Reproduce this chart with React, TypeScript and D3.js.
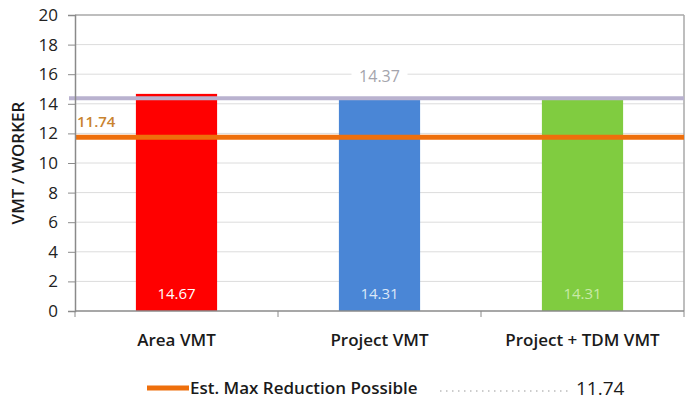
import { useEffect, useRef } from 'react'
import * as d3 from 'd3'

// values
const categories = ['Area VMT', 'Project VMT', 'Project + TDM VMT']
const vmtValues = [14.67, 14.31, 14.31]
const barColors = ['#ff0000', '#4a86d6', '#80cc40']
const labelColors = ['#ffffff', '#dbe8f8', '#c9eaa8']
const thresholdValue = 14.37
const maxReduction = 11.74
const yTicks = [0, 2, 4, 6, 8, 10, 12, 14, 16, 18, 20]

const W = 696
const H = 403
const FONT = '"Open Sans", "Noto Sans", sans-serif'

export default function App() {
  const ref = useRef<SVGSVGElement | null>(null)

  useEffect(() => {
    const svg = d3.select(ref.current)
    svg.selectAll('*').remove()

    const margin = { top: 15, right: 12, bottom: 92, left: 75 }
    const width = W - margin.left - margin.right
    const height = H - margin.top - margin.bottom

    const chart = svg.append('g').attr('transform', `translate(${margin.left},${margin.top})`)

    const x = d3.scaleBand().domain(categories).range([0, width]).paddingInner(0.6).paddingOuter(0.3)
    const xb = d3.scaleBand().domain(categories).range([0, width])
    const y = d3.scaleLinear().domain([0, 20]).range([height, 0])

    // * gridlines
    chart.selectAll('.grid')
      .data(yTicks.filter((t) => t > 0))
      .enter()
      .append('line')
      .attr('x1', 0)
      .attr('x2', width)
      .attr('y1', (d) => y(d))
      .attr('y2', (d) => y(d))
      .attr('stroke', (d) => (d === 20 ? '#a8a8a8' : '#dcdcdc'))
      .attr('stroke-width', (d) => (d === 20 ? 1.5 : 1))

    // right border
    chart.append('line')
      .attr('x1', width).attr('x2', width)
      .attr('y1', 0).attr('y2', height)
      .attr('stroke', '#a8a8a8').attr('stroke-width', 1.5)

    // * bars
    chart.selectAll('.bar')
      .data(categories)
      .enter()
      .append('rect')
      .attr('x', (d) => x(d)!)
      .attr('y', (d, i) => y(vmtValues[i]))
      .attr('width', x.bandwidth())
      .attr('height', (d, i) => height - y(vmtValues[i]))
      .attr('fill', (d, i) => barColors[i])

    chart.selectAll('.barlabel')
      .data(categories)
      .enter()
      .append('text')
      .attr('x', (d) => x(d)! + x.bandwidth() / 2)
      .attr('y', height - 12)
      .attr('text-anchor', 'middle')
      .attr('font-family', FONT)
      .attr('font-size', 15)
      .attr('fill', (d, i) => labelColors[i])
      .text((d, i) => vmtValues[i].toFixed(2))

    // * threshold line (purple)
    chart.append('line')
      .attr('x1', -6).attr('x2', width)
      .attr('y1', y(thresholdValue)).attr('y2', y(thresholdValue))
      .attr('stroke', '#b9b2cf').attr('stroke-width', 4)

    const tLabelX = xb('Project VMT')! + xb.bandwidth() / 2
    chart.append('rect')
      .attr('x', tLabelX - 28).attr('y', y(thresholdValue) - 32)
      .attr('width', 56).attr('height', 22)
      .attr('fill', '#ffffff')
    chart.append('text')
      .attr('x', tLabelX).attr('y', y(thresholdValue) - 16)
      .attr('text-anchor', 'middle')
      .attr('font-family', FONT).attr('font-size', 16)
      .attr('fill', '#a4a4ac')
      .text(thresholdValue.toFixed(2))

    // * max reduction line (orange)
    chart.append('line')
      .attr('x1', 0).attr('x2', width)
      .attr('y1', y(maxReduction)).attr('y2', y(maxReduction))
      .attr('stroke', '#ee6f0c').attr('stroke-width', 5)

    chart.append('text')
      .attr('x', 2).attr('y', y(maxReduction) - 10)
      .attr('font-family', FONT).attr('font-size', 15).attr('font-weight', 600)
      .attr('fill', '#c9832e')
      .text(maxReduction.toFixed(2))

    // * axes
    const yAxis = chart.append('g')
      .call(d3.axisLeft(y).tickValues(yTicks).tickSize(7).tickPadding(10))
    yAxis.select('.domain').attr('stroke', '#8a8a8a').attr('stroke-width', 1.5)
    yAxis.selectAll('.tick line').attr('stroke', '#8a8a8a')
    yAxis.selectAll('.tick text')
      .attr('font-family', FONT).attr('font-size', 17).attr('fill', '#222')

    const xAxis = chart.append('g').attr('transform', `translate(0,${height})`)
    xAxis.append('line')
      .attr('x1', 0).attr('x2', width)
      .attr('stroke', '#8a8a8a').attr('stroke-width', 1.5)
    xAxis.selectAll('.xtick')
      .data([0, 1, 2, 3])
      .enter()
      .append('line')
      .attr('x1', (d) => d * xb.step())
      .attr('x2', (d) => d * xb.step())
      .attr('y1', 0).attr('y2', 6)
      .attr('stroke', '#8a8a8a')
    xAxis.selectAll('.xlabel')
      .data(categories)
      .enter()
      .append('text')
      .attr('x', (d) => xb(d)! + xb.bandwidth() / 2)
      .attr('y', 35)
      .attr('text-anchor', 'middle')
      .attr('font-family', FONT).attr('font-size', 17).attr('font-weight', 600)
      .attr('fill', '#1a1a1a')
      .text((d) => d)

    // y axis title
    svg.append('text')
      .attr('transform', `translate(24,${margin.top + height / 2}) rotate(-90)`)
      .attr('text-anchor', 'middle')
      .attr('font-family', FONT).attr('font-size', 17).attr('font-weight', 600)
      .attr('fill', '#1a1a1a')
      .text('VMT / WORKER')

    // * legend
    const legend = svg.append('g').attr('transform', `translate(0,388)`)
    legend.append('line')
      .attr('x1', 147).attr('x2', 189)
      .attr('stroke', '#ee6f0c').attr('stroke-width', 5)
    legend.append('text')
      .attr('x', 190).attr('y', 6)
      .attr('font-family', FONT).attr('font-size', 17).attr('font-weight', 600)
      .attr('fill', '#1a1a1a')
      .text('Est. Max Reduction Possible')
    legend.append('line')
      .attr('x1', 440).attr('x2', 568).attr('y1', 3).attr('y2', 3)
      .attr('stroke', '#9a9a9a').attr('stroke-width', 1.2).attr('stroke-dasharray', '1.5,4.5')
    legend.append('text')
      .attr('x', 576).attr('y', 7)
      .attr('font-family', FONT).attr('font-size', 19)
      .attr('fill', '#1a1a1a')
      .text(maxReduction.toFixed(2))
  }, [])

  return (
    <svg ref={ref} width={W} height={H} style={{ position: 'absolute', left: 0, top: 0, background: '#fff' }} />
  )
}
